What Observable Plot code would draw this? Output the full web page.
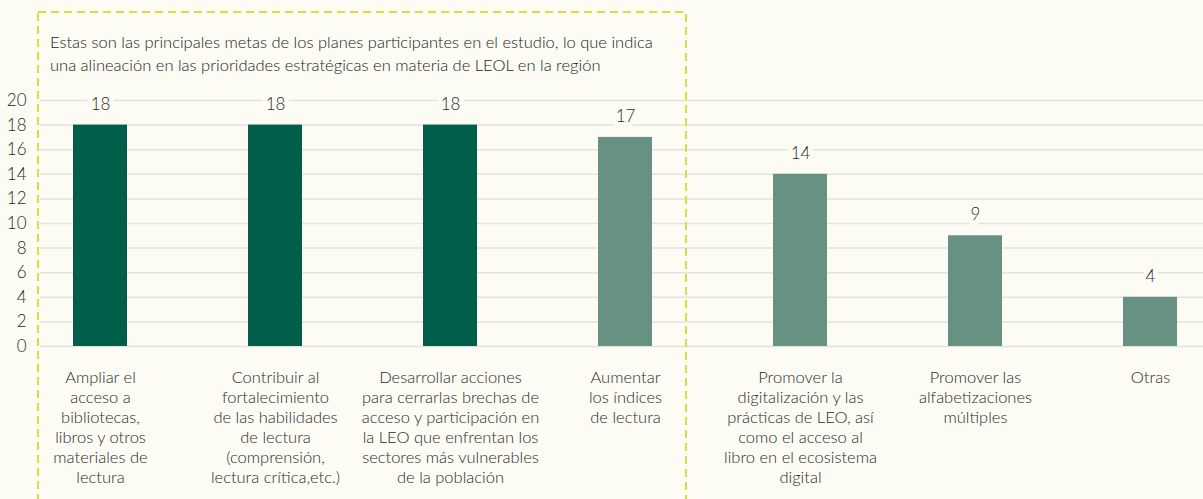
<!DOCTYPE html>
<html>
<head>
<meta charset="utf-8">
<script src="https://cdn.jsdelivr.net/npm/d3@7"></script>
<script src="https://cdn.jsdelivr.net/npm/@observablehq/plot@0.6"></script>
<style>
  html, body { margin: 0; padding: 0; background: #fcfcf5; }
  #wrap { position: relative; width: 1203px; height: 499px; overflow: hidden; font-family: Lato, "Open Sans", sans-serif; font-weight: 300; }
  #title { position: absolute; left: 50px; top: 31px; font-size: 16.5px; line-height: 23px; color: #222; white-space: nowrap; }
  #box { position: absolute; left: 0; top: 0; }
  #chart { position: absolute; left: 0; top: 0; }
  #chart svg text { font-weight: 300; }
</style>
</head>
<body>
<div id="wrap">
  <div id="chart"></div>
  <svg id="box" width="1203" height="499"></svg>
  <div id="title"></div>
</div>
<script>
const categories = [
  "Ampliar el acceso a bibliotecas, libros y otros materiales de lectura",
  "Contribuir al fortalecimiento de las habilidades de lectura (comprensión, lectura crítica,etc.)",
  "Desarrollar acciones para cerrarlas brechas de acceso y participación en la LEO que enfrentan los sectores más vulnerables de la población",
  "Aumentar los índices de lectura",
  "Promover la digitalización y las prácticas de LEO, así como el acceso al libro en el ecosistema digital",
  "Promover las alfabetizaciones múltiples",
  "Otras"
];
const tickLabels = [
  "Ampliar el\nacceso a\nbibliotecas,\nlibros y otros\nmateriales de\nlectura",
  "Contribuir al\nfortalecimiento\nde las habilidades\nde lectura\n(comprensión,\nlectura crítica,etc.)",
  "Desarrollar acciones\npara cerrarlas brechas de\nacceso y participación en\nla LEO que enfrentan los\nsectores más vulnerables\nde la población",
  "Aumentar\nlos índices\nde lectura",
  "Promover la\ndigitalización y las\nprácticas de LEO, así\ncomo el acceso al\nlibro en el ecosistema\ndigital",
  "Promover las\nalfabetizaciones\nmúltiples",
  "Otras"
];
const values = [18, 18, 18, 17, 14, 9, 4];
const highlighted = [true, true, true, false, false, false, false];
const yTicks = [0, 2, 4, 6, 8, 10, 12, 14, 16, 18, 20];
const titleLines = [
  "Estas son las principales metas de los planes participantes en el estudio, lo que indica",
  "una alineación en las prioridades estratégicas en materia de LEOL en la región"
];

const bg = "#fcfcf5";
const darkGreen = "#005e4a";
const lightGreen = "#669183";
const ink = "#2a2a2a";

const data = categories.map((c, i) => ({cat: c, value: values[i], hi: highlighted[i]}));
const labelOf = new Map(categories.map((c, i) => [c, tickLabels[i]]));

const chart = Plot.plot({
  width: 1203,
  height: 499,
  marginTop: 100,
  marginBottom: 153,
  marginLeft: 40,
  marginRight: 0,
  style: {background: "transparent", fontFamily: "Lato, 'Open Sans', sans-serif", fontSize: "16.5px", color: ink},
  x: {domain: categories, range: [-49, 1300], padding: 0.689, label: null},
  y: {domain: [0, 20], label: null},
  marks: [
    Plot.gridY(yTicks, {stroke: "#e3e3dc", strokeOpacity: 1, strokeWidth: 1.5}),
    Plot.axisY(yTicks, {tickSize: 0, tickPadding: 14, label: null, fontSize: 17, fill: ink}),
    Plot.barY(data, {x: "cat", y: "value", fill: d => d.hi ? darkGreen : lightGreen}),
    Plot.text(data, {x: "cat", y: "value", text: d => String(d.value), dy: -21, fill: ink, stroke: bg, strokeWidth: 10, paintOrder: "stroke", fontSize: 17}),
    Plot.axisX({tickSize: 0, tickPadding: 22, label: null, tickFormat: d => labelOf.get(d), lineHeight: 1.22, fontSize: 16.5, fill: ink})
  ]
});
document.getElementById("chart").appendChild(chart);

document.getElementById("title").innerHTML = titleLines.join("<br>");

const box = d3.select("#box");
box.append("rect")
  .attr("x", 38).attr("y", 12).attr("width", 648).attr("height", 520)
  .attr("fill", "none").attr("stroke", "#d6e03c").attr("stroke-width", 2)
  .attr("stroke-dasharray", "8 5");
</script>
</body>
</html>
